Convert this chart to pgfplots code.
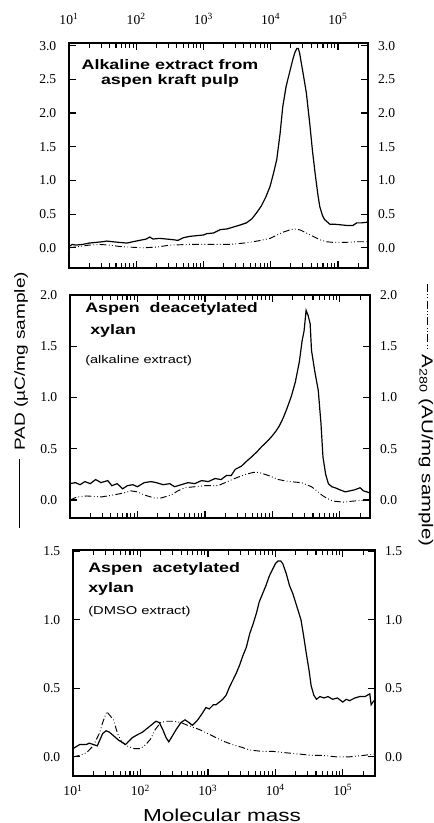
\documentclass[border=0pt]{standalone}
\usepackage{fontspec}
\setmainfont{Liberation Serif}
\setsansfont{Liberation Sans}
\newfontfamily\wsf[FakeStretch=1.3]{Liberation Sans}
\usepackage{pgfplots}
\usepackage{pgfplotstable}
\pgfplotsset{compat=1.18}

% x given as log10(molecular mass)
\pgfplotstableread{
lx y
1.00 0.02
1.05 0.05
1.10 0.04
1.20 0.05
1.30 0.07
1.40 0.08
1.50 0.09
1.56 0.10
1.65 0.09
1.75 0.08
1.86 0.07
1.95 0.09
2.05 0.11
2.15 0.13
2.20 0.16
2.25 0.13
2.35 0.14
2.45 0.13
2.55 0.12
2.62 0.11
2.70 0.15
2.80 0.17
2.90 0.18
3.00 0.19
3.05 0.21
3.15 0.22
3.25 0.27
3.35 0.28
3.45 0.31
3.55 0.34
3.64 0.37
3.72 0.43
3.79 0.52
3.86 0.62
3.93 0.76
3.99 0.91
4.04 1.10
4.09 1.31
4.14 1.70
4.18 2.10
4.23 2.40
4.28 2.60
4.33 2.80
4.36 2.90
4.39 2.96
4.41 2.96
4.43 2.89
4.48 2.60
4.53 2.30
4.58 1.85
4.62 1.45
4.66 1.11
4.70 0.80
4.73 0.61
4.77 0.48
4.80 0.42
4.88 0.35
4.95 0.35
5.05 0.34
5.15 0.33
5.22 0.33
5.28 0.37
5.35 0.37
5.44 0.38
}\topPAD

\pgfplotstableread{
lx y
1.00 0.00
1.15 0.02
1.30 0.04
1.45 0.05
1.60 0.04
1.75 0.02
1.90 0.01
2.10 0.00
2.30 0.01
2.50 0.04
2.80 0.05
3.10 0.05
3.40 0.05
3.60 0.07
3.80 0.10
3.99 0.14
4.18 0.23
4.30 0.27
4.38 0.28
4.45 0.26
4.53 0.22
4.63 0.17
4.73 0.12
4.83 0.09
4.93 0.08
5.10 0.08
5.30 0.09
5.44 0.09
}\topUV

\pgfplotstableread{
lx y
1.00 0.16
1.08 0.17
1.15 0.15
1.22 0.18
1.30 0.16
1.38 0.20
1.46 0.17
1.56 0.19
1.62 0.14
1.70 0.16
1.78 0.11
1.85 0.14
1.93 0.15
2.00 0.13
2.10 0.17
2.20 0.18
2.28 0.17
2.38 0.15
2.48 0.16
2.55 0.13
2.65 0.15
2.75 0.17
2.85 0.16
2.95 0.19
3.05 0.18
3.15 0.21
3.24 0.20
3.32 0.24
3.39 0.24
3.45 0.30
3.54 0.33
3.62 0.38
3.69 0.42
3.77 0.47
3.84 0.52
3.92 0.57
3.99 0.62
4.05 0.67
4.10 0.72
4.16 0.80
4.22 0.90
4.28 1.01
4.34 1.15
4.40 1.35
4.44 1.55
4.47 1.65
4.50 1.85
4.53 1.80
4.56 1.72
4.58 1.46
4.63 1.25
4.68 1.07
4.72 0.75
4.75 0.42
4.79 0.25
4.83 0.16
4.88 0.13
4.93 0.12
5.00 0.10
5.08 0.08
5.15 0.09
5.22 0.10
5.30 0.12
5.35 0.09
5.40 0.08
5.44 0.07
}\midPAD

\pgfplotstableread{
lx y
1.00 0.00
1.10 0.03
1.25 0.04
1.46 0.03
1.65 0.05
1.80 0.07
1.90 0.09
2.00 0.08
2.10 0.05
2.25 0.02
2.35 0.02
2.50 0.05
2.60 0.09
2.70 0.12
2.85 0.13
3.00 0.14
3.19 0.14
3.30 0.17
3.44 0.21
3.60 0.25
3.72 0.27
3.80 0.27
3.94 0.24
4.09 0.20
4.25 0.18
4.43 0.17
4.58 0.13
4.66 0.09
4.73 0.05
4.80 0.02
4.90 -0.01
5.05 -0.02
5.20 -0.01
5.44 0.00
}\midUV

\pgfplotstableread{
lx y
1.00 0.06
1.10 0.09
1.20 0.09
1.24 0.10
1.30 0.09
1.36 0.08
1.44 0.17
1.49 0.19
1.54 0.18
1.61 0.15
1.68 0.12
1.78 0.09
1.88 0.14
1.95 0.16
2.03 0.18
2.08 0.20
2.13 0.22
2.23 0.26
2.28 0.25
2.33 0.20
2.38 0.14
2.42 0.11
2.47 0.15
2.53 0.20
2.60 0.25
2.66 0.27
2.72 0.25
2.77 0.23
2.85 0.27
2.92 0.32
2.97 0.36
3.02 0.35
3.08 0.38
3.12 0.38
3.17 0.40
3.22 0.42
3.27 0.45
3.32 0.51
3.37 0.56
3.42 0.61
3.47 0.67
3.52 0.74
3.57 0.80
3.62 0.90
3.67 0.97
3.72 1.05
3.76 1.13
3.81 1.19
3.86 1.25
3.91 1.32
3.96 1.37
4.00 1.41
4.04 1.43
4.08 1.43
4.11 1.41
4.16 1.34
4.21 1.25
4.26 1.19
4.33 1.08
4.38 1.00
4.42 0.88
4.46 0.75
4.50 0.63
4.53 0.52
4.57 0.45
4.61 0.42
4.66 0.44
4.72 0.43
4.78 0.44
4.85 0.42
4.92 0.43
5.00 0.40
5.05 0.42
5.10 0.41
5.18 0.43
5.25 0.44
5.33 0.44
5.40 0.46
5.42 0.38
5.46 0.41
}\botPAD

\pgfplotstableread{
lx y
1.00 0.00
1.10 0.01
1.20 0.03
1.30 0.08
1.39 0.17
1.44 0.25
1.50 0.33
1.55 0.30
1.60 0.27
1.66 0.17
1.72 0.11
1.80 0.08
1.91 0.06
2.00 0.06
2.08 0.09
2.15 0.13
2.22 0.20
2.30 0.25
2.38 0.26
2.50 0.26
2.60 0.25
2.70 0.23
2.87 0.20
3.00 0.17
3.12 0.14
3.25 0.11
3.36 0.09
3.50 0.07
3.62 0.05
3.80 0.04
3.96 0.04
4.15 0.03
4.36 0.02
4.55 0.01
4.71 0.01
4.90 0.00
5.10 0.00
5.30 0.01
5.46 0.02
}\botUV

\pgfplotsset{
  panel/.style={
    scale only axis, anchor=north west,
    xmin=10, axis on top,
    axis line style={line width=0.9pt},
    every major tick/.append style={draw=black, line width=0.9pt, major tick length=5.5pt},
    every minor tick/.append style={draw=black, line width=0.8pt, minor tick length=3.5pt},
    xtick pos=both, ytick pos=both, tick align=inside,
    xtick={10,100,1000,10000,100000},
    minor xtick={20,30,40,50,60,70,80,90,200,300,400,500,600,700,800,900,2000,3000,4000,5000,6000,7000,8000,9000,20000,30000,40000,50000,60000,70000,80000,90000,200000,300000},
    xticklabels={10\textsuperscript{1},10\textsuperscript{2},10\textsuperscript{3},10\textsuperscript{4},10\textsuperscript{5}},
    ticklabel style={font=\fontsize{10.2}{11}\selectfont},
    /pgf/number format/assume math mode=true,
    yticklabel style={/pgf/number format/.cd, fixed, fixed zerofill, precision=1},
    yticklabel shift=6pt,
  },
  rlab/.style={
    scale only axis, anchor=north west,
    xmin=0, xmax=1,
    hide x axis,
    axis y line*=right,
    y axis line style={draw=none},
    major tick length=0pt, minor tick length=0pt,
    ticklabel style={font=\fontsize{10.2}{11}\selectfont},
    /pgf/number format/assume math mode=true,
    yticklabel style={/pgf/number format/.cd, fixed, fixed zerofill, precision=1},
    yticklabel shift=4pt,
  },
  pad/.style={black, line width=0.9pt},
  uv/.style={black, line width=0.7pt, dash pattern=on 5pt off 1.8pt on 0.6pt off 1.8pt on 0.6pt off 1.8pt},
}

\begin{document}
\begin{tikzpicture}
\begin{scope}[x=0.75pt, y=-0.75pt]
\path[use as bounding box] (0,0) rectangle (434,823);
\end{scope}

% right-side labels
\begin{axis}[rlab, at={(51.75pt,-32.25pt)}, width=224.25pt, height=168.75pt,
  ymin=-0.3, ymax=3.04, ytick={0,0.5,...,3.0}]
\addplot[draw=none] coordinates {(0.5,0)};
\end{axis}
\begin{axis}[rlab, at={(52.5pt,-221.25pt)}, width=225pt, height=167.25pt,
  ymin=-0.175, ymax=2.0, ytick={0,0.5,...,2.0}]
\addplot[draw=none] coordinates {(0.5,0)};
\end{axis}
\begin{axis}[rlab, at={(54.75pt,-412.5pt)}, width=226.5pt, height=169.5pt,
  ymin=-0.14, ymax=1.51, ytick={0,0.5,...,1.5}]
\addplot[draw=none] coordinates {(0.5,0)};
\end{axis}

% ---------- top panel ----------
\begin{axis}[xmode=log, panel, at={(51.75pt,-32.25pt)}, width=224.25pt, height=168.75pt,
  xmax=2.8e5, ymin=-0.3, ymax=3.04, ytick={0,0.5,...,3.0},
  xticklabel pos=upper, xticklabel shift=10pt]
\addplot[uv] table[x expr={10^\thisrow{lx}}, y=y] {\topUV};
\addplot[pad] table[x expr={10^\thisrow{lx}}, y=y] {\topPAD};
\end{axis}

% ---------- middle panel ----------
\begin{axis}[xmode=log, panel, at={(52.5pt,-221.25pt)}, width=225pt, height=167.25pt,
  xmax=2.8e5, ymin=-0.175, ymax=2.0, ytick={0,0.5,...,2.0},
  xticklabels={}]
\addplot[uv] table[x expr={10^\thisrow{lx}}, y=y] {\midUV};
\addplot[pad] table[x expr={10^\thisrow{lx}}, y=y] {\midPAD};
\end{axis}

% ---------- bottom panel ----------
\begin{axis}[xmode=log, panel, at={(54.75pt,-412.5pt)}, width=226.5pt, height=169.5pt,
  xmax=3.0e5, ymin=-0.14, ymax=1.51, ytick={0,0.5,...,1.5},
  xticklabel shift=3pt]
\addplot[uv] table[x expr={10^\thisrow{lx}}, y=y] {\botUV};
\addplot[pad] table[x expr={10^\thisrow{lx}}, y=y] {\botPAD};
\end{axis}

% ---------- texts ----------
\begin{scope}[x=0.75pt, y=-0.75pt]
\node[anchor=north, align=center, inner sep=0pt,
  font=\wsf\bfseries\fontsize{10.3}{11.3}\selectfont] at (170,59)
  {Alkaline extract from\\aspen kraft pulp};

\node[anchor=north west, inner sep=0pt, font=\wsf\bfseries\fontsize{10.3}{12}\selectfont]
  at (85,302) {Aspen\ \ deacetylated};
\node[anchor=north west, inner sep=0pt, font=\wsf\bfseries\fontsize{10.3}{12}\selectfont]
  at (90,324) {xylan};
\node[anchor=north west, inner sep=0pt, font=\wsf\fontsize{8.4}{10}\selectfont]
  at (85,355) {(alkaline extract)};

\node[anchor=north west, inner sep=0pt, font=\wsf\bfseries\fontsize{10.3}{12}\selectfont]
  at (88,562) {Aspen\ \ acetylated};
\node[anchor=north west, inner sep=0pt, font=\wsf\bfseries\fontsize{10.3}{12}\selectfont]
  at (88,582) {xylan};
\node[anchor=north west, inner sep=0pt, font=\wsf\fontsize{8.5}{10}\selectfont]
  at (88,606) {(DMSO extract)};

\node[anchor=base, inner sep=0pt, font=\wsf\fontsize{13}{14}\selectfont]
  at (222,821) {Molecular mass};

\node[rotate=90, inner sep=0pt, font=\wsf\fontsize{11}{12}\selectfont] at (21,400)
  {\rule[0.3em]{52pt}{0.7pt}\hspace{6pt}PAD (µC/mg sample)};
\node[rotate=-90, inner sep=0pt, font=\wsf\fontsize{11.8}{12}\selectfont] at (426,415)
  {\tikz[baseline=-0.35em]\draw[black, line width=0.7pt, dash pattern=on 6pt off 1.8pt on 0.6pt off 1.8pt on 0.6pt off 1.8pt] (0pt,0pt)--(50pt,0pt);\hspace{3pt}A\textsubscript{280} (AU/mg sample)};
\end{scope}
\end{tikzpicture}
\end{document}
